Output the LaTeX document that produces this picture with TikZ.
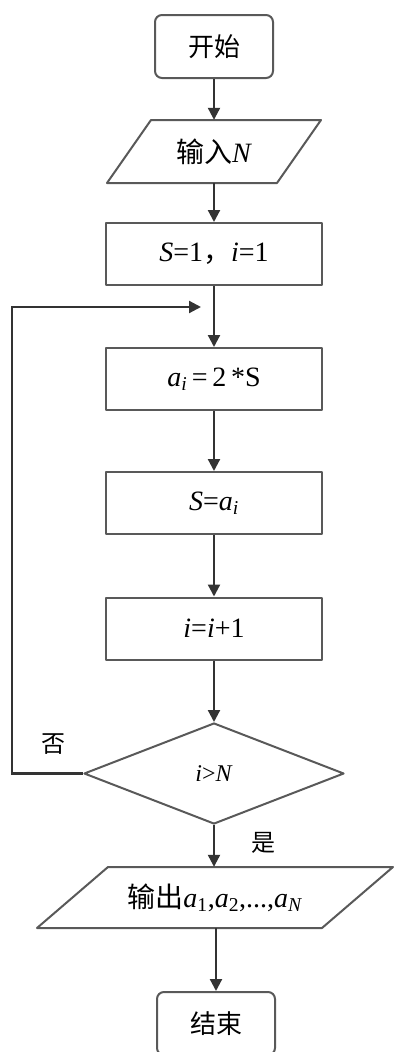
\documentclass[tikz,border=0pt]{standalone}
\usepackage{fontspec}
\setmainfont{Liberation Serif}
\newfontfamily\cjk{Noto Sans CJK SC}
\usetikzlibrary{calc}
\usetikzlibrary{arrows.meta}
\usetikzlibrary{shapes.geometric}
\tikzset{Flow Line/.style = {line width = 2.2pt, black!80, -{Triangle[width = 12pt, length = 12pt]}}}
\tikzset{Shape Line/.style = {line width = 2pt, black!65, join = round}}
\tikzset{Term Box/.style = {draw, Shape Line, text = black, rounded corners = 7pt,
    minimum width = 118pt, minimum height = 63pt, font = \cjk\fontsize{26}{30}\selectfont}}
\tikzset{Step Box/.style = {draw, Shape Line, text = black, minimum width = 216pt,
    minimum height = 62pt, font = \fontsize{28}{30}\selectfont}}
\tikzset{IO Text/.style = {inner sep = 0pt, font = \fontsize{28}{30}\selectfont}}
\tikzset{Test Box/.style = {draw, Shape Line, text = black, diamond, inner sep = 0pt,
    minimum width = 260pt, minimum height = 101pt, font = \fontsize{24}{28}\selectfont}}
\tikzset{Tag/.style = {font = \cjk\fontsize{24}{28}\selectfont}}

\begin{document}
\begin{tikzpicture}[x = 1pt, y = -1pt]
  \useasboundingbox (0, 0) rectangle (394, 1052);

  \node[Term Box] (Start) at (214, 46.5) {开始};

  \node[IO Text, minimum width = 214pt, minimum height = 63pt] (Input) at (214, 151.5)
  {{\cjk 输入}\textit{N}};
  \draw[Shape Line] ($(Input.center) + (-63, -31.5)$) -- +(170, 0) --
  ($(Input.center) + (63, 31.5)$) -- +(-170, 0) -- cycle;

  \node[Step Box] (Init) at (214, 254) {\textit{S}=1{\cjk ，}\textit{i}=1};
  \node[Step Box] (Calc) at (214, 379) {\textit{a}\textsubscript{\textit{i}}\,=\,2\,*S};
  \node[Step Box] (Assign) at (214, 503) {\textit{S}=\textit{a}\textsubscript{\textit{i}}};
  \node[Step Box] (Incr) at (214, 628.5) {\textit{i}=\textit{i}+1};

  \node[Test Box] (Check) at (214, 773.5) {\textit{i}>\textit{N}};

  \node[IO Text, minimum width = 356pt, minimum height = 61pt] (Output) at (215, 897.5)
  {{\cjk 输出}\textit{a}\textsubscript{1},\textit{a}\textsubscript{2},...,\textit{a}\textsubscript{\textit{N}}};
  \draw[Shape Line] ($(Output.center) + (-107, -30.5)$) -- +(285, 0) --
  ($(Output.center) + (107, 30.5)$) -- +(-285, 0) -- cycle;

  \node[Term Box] (End) at (216, 1023.5) {结束};

  \draw[Flow Line] (Start.south) -- (Input.north);
  \draw[Flow Line] (Input.south) -- (Init.north);
  \draw[Flow Line] (Init.south) -- (Calc.north);
  \draw[Flow Line] (Calc.south) -- (Assign.north);
  \draw[Flow Line] (Assign.south) -- (Incr.north);
  \draw[Flow Line] (Incr.south) -- (Check.north);
  \draw[Flow Line] (Check.south) -- (Output.north -| Check.south);
  \draw[Flow Line] (Output.south -| End.north) -- (End.north);

  % loop back
  \coordinate (Corner Low) at (12, 773.5);
  \coordinate (Corner High) at (12, 307);
  \coordinate (Loop In) at (201, 307);
  \draw[Flow Line, join = miter] (Check.west) -- (Corner Low) -- (Corner High) -- (Loop In);

  \node[Tag] (No) at (53, 744) {否};
  \node[Tag] (Yes) at (263, 843) {是};
\end{tikzpicture}
\end{document}
